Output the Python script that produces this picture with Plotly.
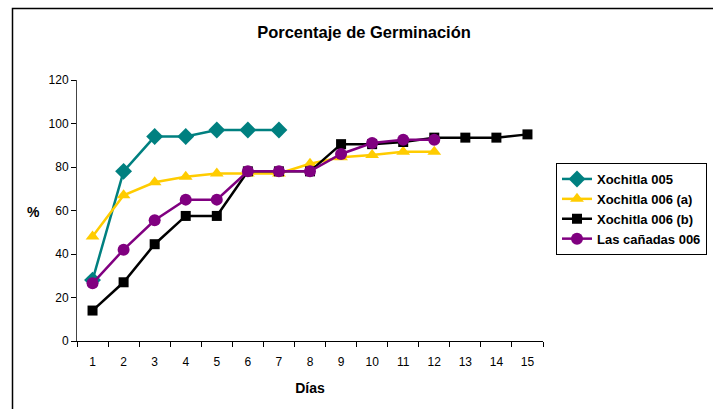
import plotly.graph_objects as go

dias = [str(d) for d in range(1, 16)]

xochitla_005 = [28, 78, 94, 94, 97, 97, 97]
xochitla_006a = [48, 67, 73, 75.5, 77, 77, 77, 81.5, 84.5, 85.5, 87, 87]
xochitla_006b = [14, 27, 44.5, 57.5, 57.5, 78, 78, 78, 90.5, 90.5, 91.5, 93.5, 93.5, 93.5, 95]
las_canadas_006 = [26.5, 42, 55.5, 65, 65, 78, 78, 78, 86, 91, 92.5, 92.5]

font_family = "Liberation Sans, Arial, sans-serif"

series = [
    ("Xochitla 005", xochitla_005, "#008080", "diamond", 13),
    ("Xochitla 006 (a)", xochitla_006a, "#FFCC00", "triangle-up", 12),
    ("Xochitla 006 (b)", xochitla_006b, "#000000", "square", 10),
    ("Las cañadas 006", las_canadas_006, "#800080", "circle", 12),
]

fig = go.Figure()
for name, vals, color, symbol, size in series:
    fig.add_trace(go.Scatter(
        x=dias[:len(vals)], y=vals, name="<b>" + name + "</b>", mode="lines+markers",
        line=dict(color=color, width=2.5),
        marker=dict(symbol=symbol, size=size, color=color),
    ))

W, H = 713, 409
ml, mr, mt, mb = 77, 170, 80, 68
pw, ph = W - ml - mr, H - mt - mb


def px_x(x):
    return (x - ml) / pw


def px_y(y):
    return (H - mb - y) / ph


fig.update_layout(
    width=W, height=H,
    margin=dict(l=ml, r=mr, t=mt, b=mb, autoexpand=False),
    paper_bgcolor="white", plot_bgcolor="white",
    font=dict(family=font_family, size=12, color="black"),
    title=dict(text="<b>Porcentaje de Germinación</b>", x=364 / W,
               xanchor="center", y=1 - 32 / H, yanchor="middle",
               font=dict(size=16.5, family=font_family)),
    showlegend=True,
    legend=dict(
        x=px_x(556), xanchor="left", y=px_y(163), yanchor="top",
        bordercolor="black", borderwidth=1, bgcolor="white",
        font=dict(size=13, family=font_family, color="black"),
        itemwidth=30, tracegroupgap=0,
    ),
    xaxis=dict(
        type="category", categoryorder="array", categoryarray=dias,
        range=[-0.5, 14.5], tickson="boundaries",
        ticks="outside", ticklen=5, tickcolor="black",
        showline=True, linecolor="black", linewidth=1,
        showgrid=False, zeroline=False, ticklabelstandoff=10,
        tickfont=dict(size=12),
        title=dict(text="<b>Días</b>", font=dict(size=14), standoff=14),
    ),
    yaxis=dict(
        range=[0, 120], tickvals=[0, 20, 40, 60, 80, 100, 120],
        ticks="outside", ticklen=5, tickcolor="black",
        showline=True, linecolor="#444", linewidth=1,
        showgrid=False, zeroline=False,
        tickfont=dict(size=12),
    ),
)

# Horizontal "%" axis label beside the value axis
fig.add_annotation(text="<b>%</b>", xref="paper", yref="paper",
                   x=px_x(33), y=px_y(212), xanchor="center", yanchor="middle",
                   showarrow=False, font=dict(size=14, family=font_family))

# Chart-area frame (only its top and left edges fall inside the page)
fig.add_shape(type="rect", xref="paper", yref="paper",
              x0=px_x(12.5), x1=px_x(W + 5), y0=px_y(H + 5), y1=px_y(8.5),
              line=dict(color="black", width=1.5), fillcolor="rgba(0,0,0,0)",
              layer="below")

fig.write_html("out.html")
